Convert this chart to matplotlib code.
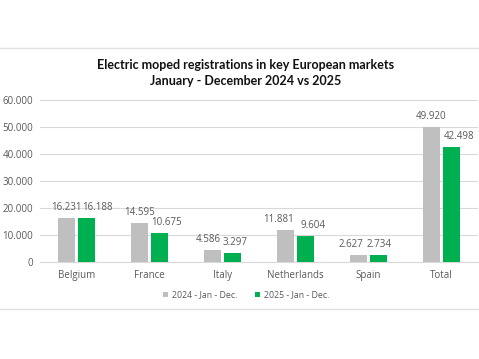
import matplotlib
matplotlib.use("Agg")
import matplotlib.pyplot as plt
import numpy as np
from matplotlib.lines import Line2D

categories = ["Belgium", "France", "Italy", "Netherlands", "Spain", "Total"]
values_2024 = [16231, 14595, 4586, 11881, 2627, 49920]
values_2025 = [16188, 10675, 3297, 9604, 2734, 42498]
series_labels = ["2024 - Jan - Dec.", "2025 - Jan - Dec."]
title = "Electric moped registrations in key European markets\nJanuary - December 2024 vs 2025"

# horizontal nudges (in points) of the data labels, as Excel placed them
nudge_2024 = [0, 0, -3, -5, -5, 0]
nudge_2025 = [7.5, 5, 1.5, 5, 0, 5.5]

def fmt(v):
    return f"{v:,}".replace(",", ".")

plt.rcParams['font.family'] = ['Open Sans', 'DejaVu Sans']
fig = plt.figure(figsize=(4.79, 3.59), dpi=100)
ax = fig.add_axes([40/479, 1-262/359, 438/479, 162/359])

x = np.arange(len(categories))
w = 0.23
gap = 0.027
b1 = ax.bar(x - w/2 - gap, values_2024, w, color="#BFBFBF", label=series_labels[0], zorder=3)
b2 = ax.bar(x + w/2 + gap, values_2025, w, color="#00B050", label=series_labels[1], zorder=3)
for bars, nudges in ((b1, nudge_2024), (b2, nudge_2025)):
    for r, dx in zip(bars, nudges):
        ax.annotate(fmt(int(r.get_height())),
                    (r.get_x() + r.get_width()/2, r.get_height()),
                    xytext=(dx, 3.5), textcoords="offset points",
                    ha="center", va="bottom", fontsize=7, color="#595959")

ax.set_xlim(-0.5, len(categories) - 0.5)
ax.set_ylim(0, 60000)
ax.set_yticks(range(0, 60001, 10000))
ax.set_yticklabels([fmt(v) for v in range(0, 60001, 10000)], fontsize=7, color="#595959")
ax.set_xticks(x)
ax.set_xticklabels(categories, fontsize=7, color="#595959")
ax.tick_params(axis="x", length=0, pad=6)
ax.tick_params(axis="y", length=0, pad=5)
ax.yaxis.grid(True, color="#D9D9D9", linewidth=0.8, zorder=0)
for s in ["top", "right", "left"]:
    ax.spines[s].set_visible(False)
ax.spines["bottom"].set_color("#D9D9D9")
ax.spines["bottom"].set_zorder(0)

fig.text(245.5/479, 1-73/359, title, ha="center", va="center", fontsize=9, fontweight="bold",
         color="#111111", linespacing=1.35, family=['Lato', 'DejaVu Sans'])

leg = fig.legend(loc="center", bbox_to_anchor=(246/479, 1-295/359), ncol=2, frameon=False,
                 fontsize=6.3, handlelength=0.6, handleheight=0.6, columnspacing=2.0,
                 handletextpad=0.4)
for t in leg.get_texts():
    t.set_color("#595959")

fig.add_artist(Line2D([0, 1], [1-48/359, 1-48/359], color="#E0E0E0", linewidth=1))
fig.add_artist(Line2D([0, 1], [1-309/359, 1-309/359], color="#E0E0E0", linewidth=1))

fig.savefig("out.png", dpi=100)
